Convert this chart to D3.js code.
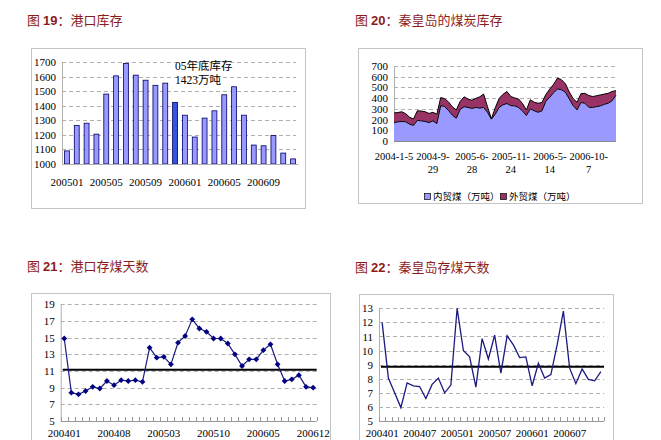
<!DOCTYPE html>
<html><head><meta charset="utf-8">
<script src="https://cdn.jsdelivr.net/npm/d3@7"></script>
<style>
body{margin:0;background:#fff;}
svg{display:block;}
</style></head><body>
<svg id="c" width="661" height="440"></svg>
<script>
// ---------- DATA ----------
const portMonths = ["200501","200502","200503","200504","200505","200506","200507","200508","200509","200510","200511","200512",
  "200601","200602","200603","200604","200605","200606","200607","200608","200609","200610","200611","200612"];
const portStock = [1090,1265,1280,1205,1480,1605,1690,1610,1575,1540,1555,1423,1335,1185,1315,1365,1475,1530,1335,1130,1125,1195,1075,1035];
const portTicks = ["200501","200505","200509","200601","200605","200609"];
const portHighlight = "200512";

const qhdDomestic = [170,179,182,179,157,145,192,188,182,172,188,163,330,322,285,240,213,295,320,313,304,313,307,313,268,204,250,313,338,350,
  330,328,312,280,238,300,282,268,282,372,408,452,485,478,456,393,330,290,360,352,315,313,320,328,342,352,375,428];
const qhdForeign = [92,87,91,76,65,60,90,92,91,85,80,87,75,73,80,78,77,75,92,79,76,85,105,125,52,4,60,85,98,112,
  85,74,80,70,52,85,80,84,78,63,77,78,103,94,79,65,65,72,82,93,110,102,102,102,96,93,87,42];
const qhdTickLabels = [["2004-1-5",""],["2004-9-","29"],["2005-6-","28"],["2005-11-","24"],["2006-5-","14"],["2006-10-","7"]];
const qhdTickIndex = [0,10,20,30,40,50];
const qhdSeries = ["内贸煤（万吨）","外贸煤（万吨）"];

const dayMonths = ["200401","200402","200403","200404","200405","200406","200407","200408","200409","200410","200411","200412",
  "200501","200502","200503","200504","200505","200506","200507","200508","200509","200510","200511","200512",
  "200601","200602","200603","200604","200605","200606","200607","200608","200609","200610","200611","200612"];
const portDays = [14.9,8.4,8.2,8.6,9.1,8.9,9.8,9.3,9.9,9.8,9.9,9.7,13.8,12.6,12.7,11.8,14.4,15.2,17.2,16.1,15.7,14.9,14.9,14.3,
  13.0,11.6,12.4,12.4,13.5,14.2,11.8,9.8,10.0,10.5,9.1,9.0];
const portDaysAvg = 11.15;
const portDaysTicks = ["200401","200408","200503","200510","200605","200612"];

const qhdDays = [12.0,8.05,7.0,5.95,7.7,7.5,7.45,6.6,7.6,8.05,7.0,7.55,13.0,10.0,9.55,7.4,10.85,9.4,11.1,8.4,11.05,10.4,9.5,9.55,
  7.5,9.1,8.05,8.3,10.4,12.8,8.75,7.65,8.7,7.95,7.85,8.5];
const qhdDaysAvg = 8.85;
const qhdDaysTicks = ["200401","200407","200501","200507","200601","200607"];

// ---------- STYLE ----------
const SERIF = '"Liberation Serif","Times New Roman","Noto Sans CJK SC",serif';
const CJK = '"Noto Sans CJK SC","Liberation Serif",serif';
const titleColor = "#8c1c1c";
const gridColor = "#9a9a9a";
const boxColor = "#c4c4c4";
const FS = 11;

const svg = d3.select("#c");

function title(x, y, num, text) {
  const t = svg.append("text").attr("x", x).attr("y", y).attr("fill", titleColor).attr("font-size", 13);
  t.append("tspan").attr("font-family", CJK).text("图 ");
  t.append("tspan").attr("font-family", '"Liberation Sans",Arial,sans-serif').attr("font-weight", "bold").text(num);
  t.append("tspan").attr("font-family", CJK).text("：" + text);
}
function box(x1, y1, x2, y2) {
  svg.append("rect").attr("x", x1 + 0.5).attr("y", y1 + 0.5).attr("width", x2 - x1).attr("height", y2 - y1)
    .attr("fill", "none").attr("stroke", boxColor);
}
function yAxis(g, y, ticks, x0, x1) {
  g.append("g").selectAll("line").data(ticks.slice(1)).join("line")
    .attr("x1", x0).attr("x2", x1).attr("y1", d => Math.round(y(d)) + 0.5).attr("y2", d => Math.round(y(d)) + 0.5)
    .attr("stroke", gridColor).attr("stroke-dasharray", "4,3").attr("stroke-width", 0.8);
  const ax = g.append("g").attr("transform", `translate(${x0},0)`)
    .call(d3.axisLeft(y).tickValues(ticks).tickSize(0).tickPadding(6).tickFormat(d3.format("d")));
  ax.select(".domain").attr("stroke", "#b0b0b0");
  ax.selectAll("text").attr("font-family", SERIF).attr("font-size", FS).attr("fill", "#000");
}

// ---------- FIG 19 ----------
title(27, 25, "19", "港口库存");
box(31, 48, 305, 208);
{
  const g = svg.append("g");
  const x = d3.scaleBand().domain(portMonths).range([62, 298]).paddingInner(0.5).paddingOuter(0.25);
  const y = d3.scaleLinear().domain([1000, 1700]).range([164, 62]);
  yAxis(g, y, d3.range(1000, 1701, 100), 62, 296);
  g.append("g").selectAll("rect").data(portStock).join("rect")
    .attr("x", (d, i) => x(portMonths[i])).attr("width", x.bandwidth())
    .attr("y", d => y(d)).attr("height", d => y(1000) - y(d))
    .attr("fill", (d, i) => portMonths[i] === portHighlight ? "#3556dc" : "#9999ff")
    .attr("stroke", "#000066").attr("stroke-width", 0.8);
  const xa = g.append("g").attr("transform", "translate(0,164)")
    .call(d3.axisBottom(x).tickValues(portTicks).tickSize(0).tickPadding(14));
  xa.select(".domain").attr("stroke", "#b0b0b0");
  xa.selectAll("text").attr("font-family", SERIF).attr("font-size", FS).attr("fill", "#000");
  g.append("text").attr("x", 175).attr("y", 70).attr("font-family", SERIF).attr("font-size", 11.5).text("05年底库存");
  g.append("text").attr("x", 175).attr("y", 84).attr("font-family", SERIF).attr("font-size", 11.5).text("1423万吨");
}

// ---------- FIG 20 ----------
title(355, 25, "20", "秦皇岛的煤炭库存");
box(358, 48, 642, 203);
{
  const g = svg.append("g");
  const x = d3.scaleLinear().domain([0, qhdDomestic.length - 1]).range([394, 616]);
  const y = d3.scaleLinear().domain([0, 700]).range([141, 66]);
  yAxis(g, y, d3.range(0, 701, 100), 394, 616);
  const total = qhdDomestic.map((d, i) => d + qhdForeign[i]);
  const idx = d3.range(qhdDomestic.length);
  g.append("path").datum(idx)
    .attr("d", d3.area().x(i => x(i)).y0(i => y(qhdDomestic[i])).y1(i => y(total[i])))
    .attr("fill", "#993366");
  g.append("path").datum(idx)
    .attr("d", d3.area().x(i => x(i)).y0(y(0)).y1(i => y(qhdDomestic[i])))
    .attr("fill", "#9999ff");
  g.append("path").datum(idx).attr("d", d3.line().x(i => x(i)).y(i => y(total[i])))
    .attr("fill", "none").attr("stroke", "#000").attr("stroke-width", 1);
  g.append("path").datum(idx).attr("d", d3.line().x(i => x(i)).y(i => y(qhdDomestic[i])))
    .attr("fill", "none").attr("stroke", "#000").attr("stroke-width", 1);
  g.append("line").attr("x1", 394).attr("x2", 616).attr("y1", y(0) + 0.5).attr("y2", y(0) + 0.5).attr("stroke", "#888");
  const lab = g.append("g").selectAll("text").data(qhdTickIndex).join("text")
    .attr("x", d => x(d)).attr("y", 160).attr("text-anchor", "middle")
    .attr("font-family", SERIF).attr("font-size", 10.5);
  lab.append("tspan").attr("x", d => x(d)).text((d, i) => qhdTickLabels[i][0]);
  lab.append("tspan").attr("x", d => x(d)).attr("dy", 12.5).text((d, i) => qhdTickLabels[i][1]);
  const lg = g.append("g").attr("font-family", CJK).attr("font-size", 9.5);
  const colors = ["#9999ff", "#993366"];
  const lx = [424, 500];
  qhdSeries.forEach((s, i) => {
    lg.append("rect").attr("x", lx[i] + 0.5).attr("y", 193.5).attr("width", 6).attr("height", 6)
      .attr("fill", colors[i]).attr("stroke", "#000").attr("stroke-width", 0.7);
    lg.append("text").attr("x", lx[i] + 9).attr("y", 200).text(s);
  });
}

// ---------- line chart helper ----------
function dayChart(opt) {
  const g = svg.append("g");
  const x = d3.scaleBand().domain(dayMonths).range([opt.x0, opt.x1]);
  const y = d3.scaleLinear().domain(opt.ydom).range([421, opt.yTop]);
  yAxis(g, y, opt.yticks, opt.x0, opt.x1);
  g.append("g").selectAll("line").data(dayMonths.concat(["end"])).join("line")
    .attr("x1", (d, i) => Math.round(opt.x0 + i * x.step()) + 0.5)
    .attr("x2", (d, i) => Math.round(opt.x0 + i * x.step()) + 0.5)
    .attr("y1", 421).attr("y2", 417).attr("stroke", "#999");
  g.append("line").attr("x1", opt.x0).attr("x2", opt.x1).attr("y1", 421.5).attr("y2", 421.5).attr("stroke", "#999");
  const cx = d => x(d) + x.bandwidth() / 2;
  g.append("line").attr("x1", opt.x0 + 2).attr("x2", opt.x1).attr("y1", y(opt.avg)).attr("y2", y(opt.avg))
    .attr("stroke", "#000").attr("stroke-width", 2);
  g.append("path").datum(opt.values)
    .attr("d", d3.line().x((d, i) => cx(dayMonths[i])).y(d => y(d)))
    .attr("fill", "none").attr("stroke", "#1a1a80").attr("stroke-width", opt.lw);
  if (opt.markers) {
    g.append("g").selectAll("path").data(opt.values).join("path")
      .attr("d", d3.symbol(d3.symbolSquare, 17))
      .attr("transform", (d, i) => `translate(${cx(dayMonths[i])},${y(d)}) rotate(45)`)
      .attr("fill", "#000080");
  }
  g.append("g").selectAll("text").data(opt.ticks).join("text")
    .attr("x", d => cx(d)).attr("y", opt.labelY).attr("text-anchor", "middle")
    .attr("font-family", SERIF).attr("font-size", FS).text(d => d);
}

// ---------- FIG 21 ----------
title(27, 271, "21", "港口存煤天数");
box(31, 293, 330, 460);
dayChart({x0: 60.7, x1: 316.7, ydom: [5, 19], yTop: 304.3, yticks: d3.range(5, 20, 2), values: portDays,
  avg: portDaysAvg, ticks: portDaysTicks, markers: true, lw: 1.2, labelY: 437});

// ---------- FIG 22 ----------
title(355, 272, 22, "秦皇岛存煤天数");
box(359, 294, 613, 460);
dayChart({x0: 379, x1: 604, ydom: [5, 13], yTop: 308.3, yticks: d3.range(5, 14, 1), values: qhdDays,
  avg: qhdDaysAvg, ticks: qhdDaysTicks, markers: false, lw: 1.3, labelY: 437});
</script>
</body></html>
